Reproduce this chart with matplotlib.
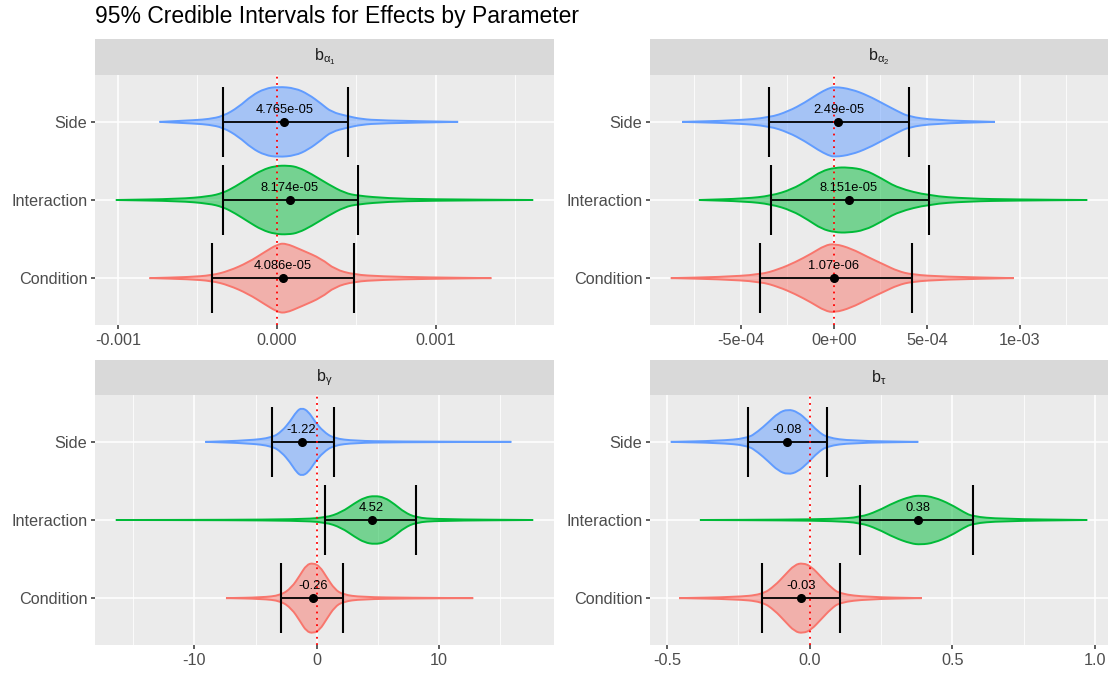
import matplotlib
matplotlib.use("Agg")
import matplotlib.pyplot as plt
from matplotlib.path import Path
from matplotlib.patches import PathPatch

plt.rcParams['font.family'] = ['Liberation Sans', 'DejaVu Sans']
plt.rcParams['mathtext.fontset'] = 'custom'
plt.rcParams['mathtext.rm'] = 'Liberation Sans'
plt.rcParams['mathtext.it'] = 'Liberation Sans:italic'

W, H = 1109, 674

groups = ["Condition", "Interaction", "Side"]
colours = ["#F8766D", "#00BA38", "#619CFF"]

strip_labels = [r"$\mathrm{b}_{\mathrm{\alpha}_{1}}$", r"$\mathrm{b}_{\mathrm{\alpha}_{2}}$",
                r"$\mathrm{b}_{\mathrm{\gamma}}$", r"$\mathrm{b}_{\mathrm{\tau}}$"]

# posterior medians and 95% interval bounds (Condition, Interaction, Side)
est_a1 = [4.086e-05, 8.174e-05, 4.765e-05]
lo_a1 = [-0.000409, -0.000340, -0.000338]
hi_a1 = [0.000486, 0.000509, 0.000448]

est_a2 = [1.07e-06, 8.151e-05, 2.49e-05]
lo_a2 = [-3.95e-4, -3.37e-4, -3.47e-4]
hi_a2 = [4.20e-4, 5.13e-4, 4.03e-4]

est_g = [-0.26, 4.52, -1.22]
lo_g = [-2.93, 0.71, -3.64]
hi_g = [2.17, 8.15, 1.41]

est_t = [-0.03, 0.38, -0.08]
lo_t = [-0.166, 0.178, -0.217]
hi_t = [0.107, 0.572, 0.063]

# violin outlines: x positions and relative half widths
prof_a1 = {
    "Condition": ([-0.000800, -0.000553, -0.000409, -0.000303, -0.000178, -0.000073, 0.0, 0.000052,
                   0.000157, 0.000282, 0.000365, 0.000486, 0.000658, 0.000949, 0.00135],
                  [0, 0.03, 0.08, 0.2, 0.45, 0.75, 0.95, 1.0, 0.8, 0.55, 0.25, 0.1, 0.05, 0.02, 0]),
    "Interaction": ([-0.001012, -0.000616, -0.000428, -0.000338, -0.000261, -0.000178, -0.000094, -0.00001,
                     0.000073, 0.000136, 0.000219, 0.000323, 0.000427, 0.000511, 0.000699, 0.000949, 0.001613],
                    [0, 0.03, 0.1, 0.2, 0.38, 0.62, 0.85, 0.97, 0.98, 0.93, 0.74, 0.45, 0.2, 0.12, 0.05, 0.02, 0]),
    "Side": ([-0.000737, -0.000512, -0.000428, -0.000338, -0.000240, -0.000157, -0.000073, 0.00001,
              0.000115, 0.000198, 0.000282, 0.000344, 0.000449, 0.000532, 0.000658, 0.001141],
             [0, 0.05, 0.08, 0.16, 0.42, 0.75, 0.95, 1.0, 0.96, 0.79, 0.51, 0.28, 0.16, 0.08, 0.04, 0]),
}
prof_a2 = {
    "Condition": ([-8.76e-4, -6.18e-4, -3.95e-4, -2.97e-4, -2.08e-4, -1.19e-4, -4.8e-5, 5e-6,
                   9.4e-5, 1.83e-4, 2.72e-4, 3.44e-4, 4.20e-4, 5.93e-4, 9.67e-4],
                  [0, 0.03, 0.1, 0.25, 0.45, 0.7, 0.93, 0.98, 0.84, 0.6, 0.38, 0.2, 0.1, 0.04, 0]),
    "Interaction": ([-7.25e-4, -4.76e-4, -3.37e-4, -2.26e-4, -1.37e-4, -6.6e-5, 5e-6, 7.7e-5,
                     1.66e-4, 2.55e-4, 3.44e-4, 5.13e-4, 7.18e-4, 9.85e-4, 1.362e-3],
                    [0, 0.04, 0.12, 0.3, 0.57, 0.82, 0.92, 0.93, 0.86, 0.62, 0.34, 0.12, 0.04, 0.015, 0]),
    "Side": ([-8.14e-4, -5.29e-4, -3.47e-4, -2.44e-4, -1.55e-4, -8.4e-5, -3.0e-5, 5e-6,
              9.4e-5, 1.83e-4, 2.72e-4, 3.44e-4, 4.03e-4, 5.40e-4, 8.66e-4],
             [0, 0.04, 0.12, 0.3, 0.55, 0.8, 0.95, 1.0, 0.93, 0.75, 0.5, 0.3, 0.15, 0.05, 0]),
}
prof_g = {
    "Condition": ([-7.42, -4.48, -2.93, -2.04, -1.36, -0.82, -0.27, 0.27, 0.82, 1.49, 2.17, 3.67, 7.74, 12.83],
                  [0, 0.02, 0.08, 0.3, 0.65, 0.95, 1.0, 0.9, 0.6, 0.25, 0.1, 0.03, 0.01, 0]),
    "Interaction": ([-16.44, -7.2, -1.77, 0.71, 2.04, 3.13, 3.94, 4.76, 5.57, 6.39, 7.20, 8.15, 9.92, 17.74],
                    [0, 0.005, 0.02, 0.06, 0.22, 0.48, 0.64, 0.69, 0.64, 0.45, 0.22, 0.07, 0.02, 0]),
    "Side": ([-9.10, -5.57, -3.64, -2.85, -2.17, -1.63, -1.22, -0.68, -0.14, 0.54, 1.41, 3.13, 6.39, 15.95],
             [0, 0.04, 0.12, 0.3, 0.58, 0.87, 0.97, 0.87, 0.58, 0.3, 0.1, 0.03, 0.01, 0]),
}
prof_t = {
    "Condition": ([-0.457, -0.262, -0.166, -0.122, -0.087, -0.052, -0.023, 0.006, 0.041, 0.076, 0.107, 0.203, 0.393],
                  [0, 0.03, 0.1, 0.35, 0.65, 0.95, 1.0, 0.9, 0.6, 0.3, 0.12, 0.03, 0]),
    "Interaction": ([-0.384, -0.087, 0.087, 0.178, 0.238, 0.297, 0.355, 0.390, 0.436, 0.494, 0.541, 0.572, 0.669, 0.973],
                    [0, 0.01, 0.03, 0.08, 0.25, 0.5, 0.67, 0.70, 0.65, 0.45, 0.22, 0.1, 0.03, 0]),
    "Side": ([-0.486, -0.320, -0.217, -0.180, -0.145, -0.110, -0.076, -0.041, -0.006, 0.029, 0.063, 0.145, 0.381],
             [0, 0.03, 0.1, 0.3, 0.55, 0.82, 0.93, 0.85, 0.6, 0.3, 0.12, 0.03, 0]),
}

major_a1 = [-0.001, 0.0, 0.001]
major_a1_lab = ["-0.001", "0.000", "0.001"]
minor_a1 = [-0.0005, 0.0005, 0.0015]
major_a2 = [-5e-4, 0.0, 5e-4, 1e-3]
major_a2_lab = ["-5e-04", "0e+00", "5e-04", "1e-03"]
minor_a2 = [-7.5e-4, -2.5e-4, 2.5e-4, 7.5e-4, 1.25e-3]
major_g = [-10, 0, 10]
major_g_lab = ["-10", "0", "10"]
minor_g = [-15, -5, 5, 15]
major_t = [-0.5, 0.0, 0.5, 1.0]
major_t_lab = ["-0.5", "0.0", "0.5", "1.0"]
minor_t = [-0.25, 0.25, 0.75]

panels = [
    (est_a1, lo_a1, hi_a1, prof_a1, major_a1, major_a1_lab, minor_a1),
    (est_a2, lo_a2, hi_a2, prof_a2, major_a2, major_a2_lab, minor_a2),
    (est_g, lo_g, hi_g, prof_g, major_g, major_g_lab, minor_g),
    (est_t, lo_t, hi_t, prof_t, major_t, major_t_lab, minor_t),
]

# pixel boxes: (left, right, strip top, panel top, panel bottom)
boxes = [(95, 554, 39, 75, 325), (650, 1108, 39, 75, 325),
         (95, 554, 360, 395, 645), (650, 1108, 360, 395, 645)]

HALF = 0.45


def smooth(pts):
    # quadratic bezier through midpoints, ends kept exact
    verts = [pts[0], ((pts[0][0] + pts[1][0]) / 2, (pts[0][1] + pts[1][1]) / 2)]
    codes = [Path.MOVETO, Path.LINETO]
    for i in range(1, len(pts) - 1):
        nxt = pts[i + 1]
        verts += [pts[i], ((pts[i][0] + nxt[0]) / 2, (pts[i][1] + nxt[1]) / 2)]
        codes += [Path.CURVE3, Path.CURVE3]
    verts.append(pts[-1])
    codes.append(Path.LINETO)
    return verts, codes


def violin(ax, xs, ws, y, colour):
    top = [(x, y + w * HALF) for x, w in zip(xs, ws)]
    bot = [(x, y - w * HALF) for x, w in zip(xs, ws)][::-1]
    v1, c1 = smooth(top)
    v2, c2 = smooth(bot)
    verts = v1 + v2[1:] + [v1[0]]
    codes = c1 + c2[1:] + [Path.CLOSEPOLY]
    ax.add_patch(PathPatch(Path(verts, codes), facecolor=colour, alpha=0.5, lw=0, zorder=2))
    ax.add_patch(PathPatch(Path(verts, codes), facecolor="none", edgecolor=colour, lw=1.4, zorder=2.1))


fig = plt.figure(figsize=(W / 100, H / 100), dpi=100)
fig.text(95 / W, 1 - 17 / H, "95% Credible Intervals for Effects by Parameter",
         ha="left", va="center", fontsize=16.5, color="black")

for k, (est, lo, hi, prof, major, major_lab, minor) in enumerate(panels):
    x0, x1, s0, p0, p1 = boxes[k]
    ax = fig.add_axes([x0 / W, 1 - p1 / H, (x1 - x0) / W, (p1 - p0) / H])
    sx = fig.add_axes([x0 / W, 1 - p0 / H, (x1 - x0) / W, (p0 - s0) / H])
    sx.set_facecolor("#D9D9D9")
    sx.set_xticks([])
    sx.set_yticks([])
    for s in sx.spines.values():
        s.set_visible(False)
    sx.text(0.5, 0.5, strip_labels[k], ha="center", va="center", fontsize=11.5,
            color="#1A1A1A", transform=sx.transAxes)

    ax.set_facecolor("#EBEBEB")
    for s in ax.spines.values():
        s.set_visible(False)

    xmin = min(min(prof[g][0]) for g in groups)
    xmax = max(max(prof[g][0]) for g in groups)
    pad = (xmax - xmin) * 0.05
    ax.set_xlim(xmin - pad, xmax + pad)
    ax.set_ylim(0.4, 3.6)

    for m in minor:
        ax.axvline(m, color="white", lw=0.55, zorder=0.5)
    for m in major:
        ax.axvline(m, color="white", lw=1.1, zorder=0.6)
    for i in range(len(groups)):
        ax.axhline(i + 1, color="white", lw=1.1, zorder=0.6)

    for i, g in enumerate(groups):
        y = i + 1
        xs, ws = prof[g]
        violin(ax, xs, ws, y, colours[i])
        ax.hlines(y, lo[i], hi[i], color="black", lw=1.3, zorder=3)
        ax.vlines([lo[i], hi[i]], y - HALF, y + HALF, color="black", lw=1.5, zorder=3)

    ax.axvline(0, color="red", lw=1.3, ls=(0, (1, 2.5)), zorder=3.5)

    for i, g in enumerate(groups):
        y = i + 1
        ax.plot([est[i]], [y], "o", color="black", ms=5.5, zorder=4)
        ax.text(est[i], y + 0.15, "{:.4g}".format(est[i]), ha="center", va="center",
                fontsize=9.3, color="black", zorder=5)

    ax.set_xticks(major)
    ax.set_xticklabels(major_lab)
    ax.set_yticks([1, 2, 3])
    ax.set_yticklabels(groups)
    ax.tick_params(axis="both", colors="#333333", length=3, width=1.1, labelsize=11.7,
                   labelcolor="#4D4D4D", pad=2.5)

fig.savefig("out.png", dpi=100, facecolor="white")
